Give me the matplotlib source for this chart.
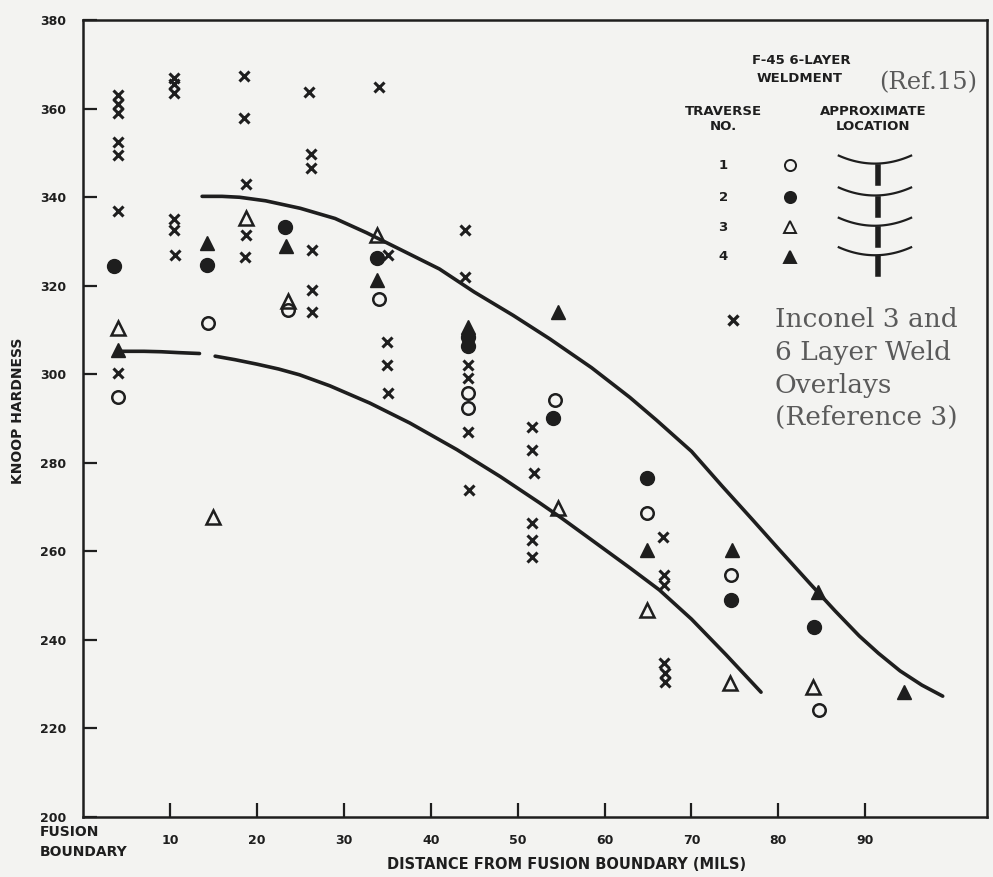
import matplotlib.pyplot as plt
import numpy as np

# traverse 1..4 (F-45 6-layer weldment, Ref.15)
t1_x = [4.0, 14.4, 23.6, 34.0, 44.3, 44.3, 54.3, 64.9, 74.6, 84.7]
t1_y = [294.8, 311.5, 314.5, 317.0, 295.7, 292.3, 294.1, 268.6, 254.6, 224.2]
t2_x = [3.6, 14.3, 23.2, 33.8, 44.3, 44.3, 54.1, 64.9, 74.6, 84.1]
t2_y = [324.4, 324.6, 333.2, 326.2, 308.4, 306.5, 290.1, 276.5, 249.0, 242.9]
t3_x = [4.0, 15.0, 18.8, 23.6, 33.8, 54.6, 64.9, 74.4, 84.0]
t3_y = [310.4, 267.7, 335.2, 316.5, 331.4, 269.8, 246.7, 230.2, 229.3]
t4_x = [4.0, 14.3, 23.4, 33.8, 44.3, 54.7, 64.9, 74.7, 84.5, 94.5]
t4_y = [305.4, 329.6, 329.1, 321.2, 310.6, 314.0, 260.3, 260.3, 250.8, 228.2]

# Inconel 3 and 6 layer weld overlays (Reference 3)
inc_x = [4.0, 4.0, 4.0, 4.0, 4.0, 4.0, 4.0,
         10.5, 10.5, 10.5, 10.5, 10.5, 10.6,
         18.5, 18.5, 18.8, 18.8, 18.6,
         26.0, 26.2, 26.2, 26.3, 26.3, 26.3,
         34.0,
         35.1, 35.0, 35.0, 35.1,
         44.0, 44.0, 44.3, 44.3, 44.3, 44.4,
         51.7, 51.7, 51.9, 51.7, 51.7, 51.7,
         66.7, 66.8, 66.8, 66.8, 66.9, 66.9]
inc_y = [363.0, 361.0, 359.0, 352.5, 349.5, 337.0, 300.2,
         367.0, 365.5, 363.5, 335.0, 332.5, 327.0,
         367.5, 358.0, 343.0, 331.4, 326.5,
         363.7, 349.7, 346.5, 328.0, 319.0, 314.0,
         364.8,
         326.9, 307.2, 302.0, 295.7,
         332.5, 321.9, 302.0, 299.1, 286.9, 273.8,
         288.0, 282.8, 277.7, 266.4, 262.5, 258.7,
         263.2, 254.6, 252.4, 234.8, 232.5, 230.5]

# hand-drawn band curves
up_x = [13.7, 16.0, 18.0, 21.0, 25.0, 29.0, 32.6, 36.5, 41.0, 45.0, 49.5, 53.7, 58.5,
        62.9, 66.0, 70.0, 73.5, 77.0, 80.0, 83.6, 86.5, 89.3, 91.5, 94.0, 96.5, 98.9]
up_y = [340.2, 340.2, 340.0, 339.2, 337.5, 335.2, 332.0, 328.2, 323.8, 318.6, 313.3, 308.0, 301.5,
        294.8, 289.6, 282.6, 274.8, 267.2, 260.6, 252.8, 246.6, 240.9, 237.0, 233.0, 229.8, 227.3]
lo_x = [4.5, 7.0, 9.0, 11.0, 13.4]
lo_y = [305.2, 305.2, 305.1, 304.9, 304.7]
lo2_x = [15.2, 17.5, 20.0, 22.5, 24.9, 28.4, 33.0, 37.6, 43.0, 48.0, 52.5, 55.0, 58.5,
         62.9, 66.3, 70.0, 74.0, 78.0]
lo2_y = [304.1, 303.3, 302.3, 301.2, 299.9, 297.4, 293.5, 289.0, 283.0, 276.9, 271.0, 267.6, 262.6,
         256.3, 251.3, 244.7, 236.6, 228.2]

ink = '#1e1e1e'
grey = '#5a5a5a'
paper = '#f3f3f1'
plt.rcParams['font.family'] = ['DejaVu Sans']
fig = plt.figure(figsize=(9.93, 8.77), dpi=100, facecolor=paper)
ax = fig.add_axes([0.0836, 0.0684, 0.9104, 0.9086])
ax.set_facecolor(paper)

for cx, cy in [(up_x, up_y), (lo_x, lo_y), (lo2_x, lo2_y)]:
    ax.plot(cx, cy, color=ink, lw=2.6, solid_capstyle='round', solid_joinstyle='round')

ax.plot(t1_x, t1_y, 'o', ms=9, mfc='none', mec=ink, mew=1.8, ls='none')
ax.plot(t2_x, t2_y, 'o', ms=10, mfc=ink, mec=ink, ls='none')
ax.plot(t3_x, t3_y, '^', ms=10, mfc='none', mec=ink, mew=1.8, ls='none')
ax.plot(t4_x, t4_y, '^', ms=10, mfc=ink, mec=ink, ls='none')
ax.plot(inc_x, inc_y, 'x', ms=6.5, mec=ink, mew=2.2, ls='none')

ax.set_xlim(0, 104)
ax.set_ylim(200, 380)
ax.set_xticks(np.arange(10, 100, 10))
ax.set_yticks(np.arange(200, 381, 20))
ax.tick_params(direction='in', length=10, width=1.6, colors=ink, labelsize=9)
ax.tick_params(axis='y', pad=12)
ax.tick_params(axis='x', pad=12)
for lab in ax.get_xticklabels() + ax.get_yticklabels():
    lab.set_fontweight('bold')
for s in ax.spines.values():
    s.set_color(ink)
    s.set_linewidth(1.8)

ax.set_ylabel('KNOOP HARDNESS', fontsize=10, fontweight='bold', color=ink)
ax.yaxis.set_label_coords(-0.064, 0.51)
ax.set_xlabel('DISTANCE FROM FUSION BOUNDARY (MILS)', fontsize=10.5, fontweight='bold', color=ink)
ax.xaxis.set_label_coords(0.535, -0.05)
fig.text(0.040, 0.040, 'FUSION\nBOUNDARY', fontsize=10, fontweight='bold', color=ink,
         ha='left', va='center', linespacing=1.6)

# legend block
kw = dict(transform=ax.transAxes, color=ink, fontsize=9.5, fontweight='bold', ha='center', va='center')
ax.text(0.795, 0.950, 'F-45 6-LAYER', **kw)
ax.text(0.793, 0.927, 'WELDMENT', **kw)
ax.text(0.935, 0.921, '(Ref.15)', transform=ax.transAxes, color=grey, fontsize=17.5,
        family='DejaVu Serif', ha='center', va='center')
ax.text(0.708, 0.885, 'TRAVERSE', **kw)
ax.text(0.708, 0.867, 'NO.', **kw)
ax.text(0.874, 0.885, 'APPROXIMATE', **kw)
ax.text(0.874, 0.866, 'LOCATION', **kw)
rows = [0.818, 0.778, 0.740, 0.703]
styles = [('o', 'none'), ('o', ink), ('^', 'none'), ('^', ink)]
a = np.linspace(-1, 1, 30)
for i, (yy, (m, fc)) in enumerate(zip(rows, styles)):
    ax.text(0.708, yy, str(i + 1), **kw)
    ax.plot([0.782], [yy], m, ms=8, mfc=fc, mec=ink, mew=1.4, transform=ax.transAxes, clip_on=False)
    ax.plot(0.876 + 0.040 * a, yy + 0.002 + 0.010 * a ** 2, color=ink, lw=1.6,
            transform=ax.transAxes)
    ax.plot([0.879, 0.879], [yy - 0.002, yy - 0.022], color=ink, lw=4, transform=ax.transAxes)

ax.plot([0.719], [0.624], 'x', ms=7, mec=ink, mew=2.4, transform=ax.transAxes)
serif = dict(transform=ax.transAxes, color=grey, fontsize=19, family='DejaVu Serif',
             ha='left', va='center')
ax.text(0.765, 0.624, 'Inconel 3 and', **serif)
ax.text(0.765, 0.583, '6 Layer Weld', **serif)
ax.text(0.765, 0.542, 'Overlays', **serif)
ax.text(0.765, 0.501, '(Reference 3)', **serif)

fig.savefig('out.png', dpi=100, facecolor=fig.get_facecolor())
